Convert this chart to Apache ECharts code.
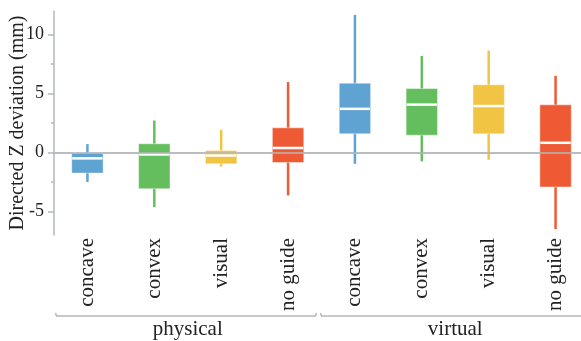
<!DOCTYPE html>
<html>
<head>
<meta charset="utf-8">
<script src="https://cdn.jsdelivr.net/npm/echarts@6/dist/echarts.min.js"></script>
<style>
html,body{margin:0;padding:0;background:#fff;}
#main{width:581px;height:341px;}
</style>
</head>
<body>
<div id="main"></div>
<script>
// ---- data ----
const groups = ['physical', 'virtual'];
const conditions = ['concave', 'convex', 'visual', 'no guide'];
const lowWhisker  = [-2.50, -4.63, -1.19, -3.64, -0.96, -0.76, -0.62, -6.50];
const q1          = [-1.75, -3.08, -0.96, -0.85,  1.58,  1.47,  1.58, -2.93];
const median      = [-0.50, -0.17, -0.26,  0.38,  3.70,  4.06,  3.94,  0.82];
const q3          = [-0.05,  0.74,  0.17,  2.09,  5.88,  5.42,  5.74,  4.04];
const highWhisker = [ 0.71,  2.71,  1.92,  5.97, 11.67,  8.19,  8.64,  6.50];
const yTicks = [-5, 0, 5, 10];
const yMinorTicks = [-2.5, 2.5, 7.5];

const colors = ['#5fa3d3', '#65be5e', '#f2c443', '#ee5a33'];
const FONT = 'Liberation Serif';
const TXT = '#222';
const AX = '#b4b8bc';

const categories = [];
groups.forEach(g => conditions.forEach(c => categories.push(g + '|' + c)));
const boxData = categories.map((c, i) => [i, lowWhisker[i], q1[i], median[i], q3[i], highWhisker[i]]);

const chart = echarts.init(document.getElementById('main'), null, {renderer: 'canvas'});

const option = {
  animation: false,
  grid: {left: 54, top: 11, width: 535, height: 224, containLabel: false, outerBoundsMode: 'none'},
  xAxis: [{
    type: 'category',
    data: categories,
    axisLine: {show: true, lineStyle: {color: AX, width: 1.5}},
    axisTick: {show: false},
    axisLabel: {
      rotate: 90, margin: 3, fontSize: 21, fontFamily: FONT, color: TXT,
      interval: 0,
      formatter: v => v.split('|')[1]
    },
    splitLine: {show: false}
  }, {
    type: 'category',
    data: groups,
    position: 'bottom',
    offset: 76,
    axisLine: {show: false},
    axisTick: {show: false},
    axisLabel: {margin: 8, fontSize: 21, fontFamily: FONT, color: TXT, interval: 0},
    splitLine: {show: false}
  }],
  yAxis: [{
    type: 'value',
    min: -7, max: 12,
    name: 'Directed Z deviation (mm)',
    nameLocation: 'middle',
    nameGap: 26,
    nameMoveOverlap: false,
    nameTextStyle: {fontSize: 20, fontFamily: FONT, color: TXT},
    axisLine: {show: true, lineStyle: {color: AX, width: 1.5}},
    axisTick: {show: true, length: 6, customValues: yTicks, lineStyle: {color: AX, width: 1.5}},
    axisLabel: {customValues: yTicks, margin: 10, fontSize: 18, fontFamily: FONT, color: TXT},
    splitLine: {show: false}
  }, {
    type: 'value',
    min: -7, max: 12,
    position: 'left',
    axisLine: {show: false},
    axisTick: {show: true, length: 3, customValues: yMinorTicks, lineStyle: {color: AX, width: 1.5}},
    axisLabel: {show: false},
    splitLine: {show: false}
  }],
  series: [{
    type: 'line',
    data: [],
    z: 1,
    silent: true,
    markLine: {
      silent: true,
      symbol: 'none',
      label: {show: false},
      lineStyle: {color: AX, width: 1.5, type: 'solid'},
      data: [{yAxis: 0}]
    }
  }, {
    type: 'custom',
    z: 2,
    xAxisIndex: 0,
    yAxisIndex: 0,
    data: boxData,
    encode: {x: 0, y: [1, 2, 3, 4, 5]},
    renderItem: function (params, api) {
      const idx = api.value(0);
      const color = colors[idx % 4];
      const pLow = api.coord([idx, api.value(1)]);
      const pQ1 = api.coord([idx, api.value(2)]);
      const pMed = api.coord([idx, api.value(3)]);
      const pQ3 = api.coord([idx, api.value(4)]);
      const pHigh = api.coord([idx, api.value(5)]);
      const w = api.size([1, 0])[0] * 0.47;
      const cx = pMed[0];
      return {
        type: 'group',
        children: [{
          type: 'line',
          shape: {x1: cx, y1: pLow[1], x2: cx, y2: pHigh[1]},
          style: {stroke: color, lineWidth: 2.5}
        }, {
          type: 'rect',
          shape: {x: cx - w / 2, y: pQ3[1], width: w, height: pQ1[1] - pQ3[1]},
          style: {fill: color, stroke: 'rgba(255,255,255,0.45)', lineWidth: 1}
        }, {
          type: 'line',
          shape: {x1: cx - w / 2 + 0.5, y1: pMed[1], x2: cx + w / 2 - 0.5, y2: pMed[1]},
          style: {stroke: '#ffffff', lineWidth: 2.5}
        }]
      };
    }
  }]
};
chart.setOption(option);

// group brackets under category labels
const c0 = chart.convertToPixel({xAxisIndex: 0}, categories[0]);
const c1 = chart.convertToPixel({xAxisIndex: 0}, categories[1]);
const band = c1 - c0;
const yB = 316;
const graphics = [];
groups.forEach((g, gi) => {
  const first = chart.convertToPixel({xAxisIndex: 0}, categories[gi * conditions.length]);
  const last = chart.convertToPixel({xAxisIndex: 0}, categories[gi * conditions.length + conditions.length - 1]);
  const x1 = first - band / 2 + (gi === 0 ? 1.5 : -1);
  const x2 = last + band / 2 - 5;
  graphics.push({
    type: 'polyline',
    silent: true,
    shape: {points: [[x1, yB - 3], [x1 + 1, yB], [x2 - 1, yB], [x2, yB - 3]]},
    style: {stroke: AX, lineWidth: 1.5, fill: null}
  });
});
chart.setOption({graphic: graphics});
</script>
</body>
</html>
